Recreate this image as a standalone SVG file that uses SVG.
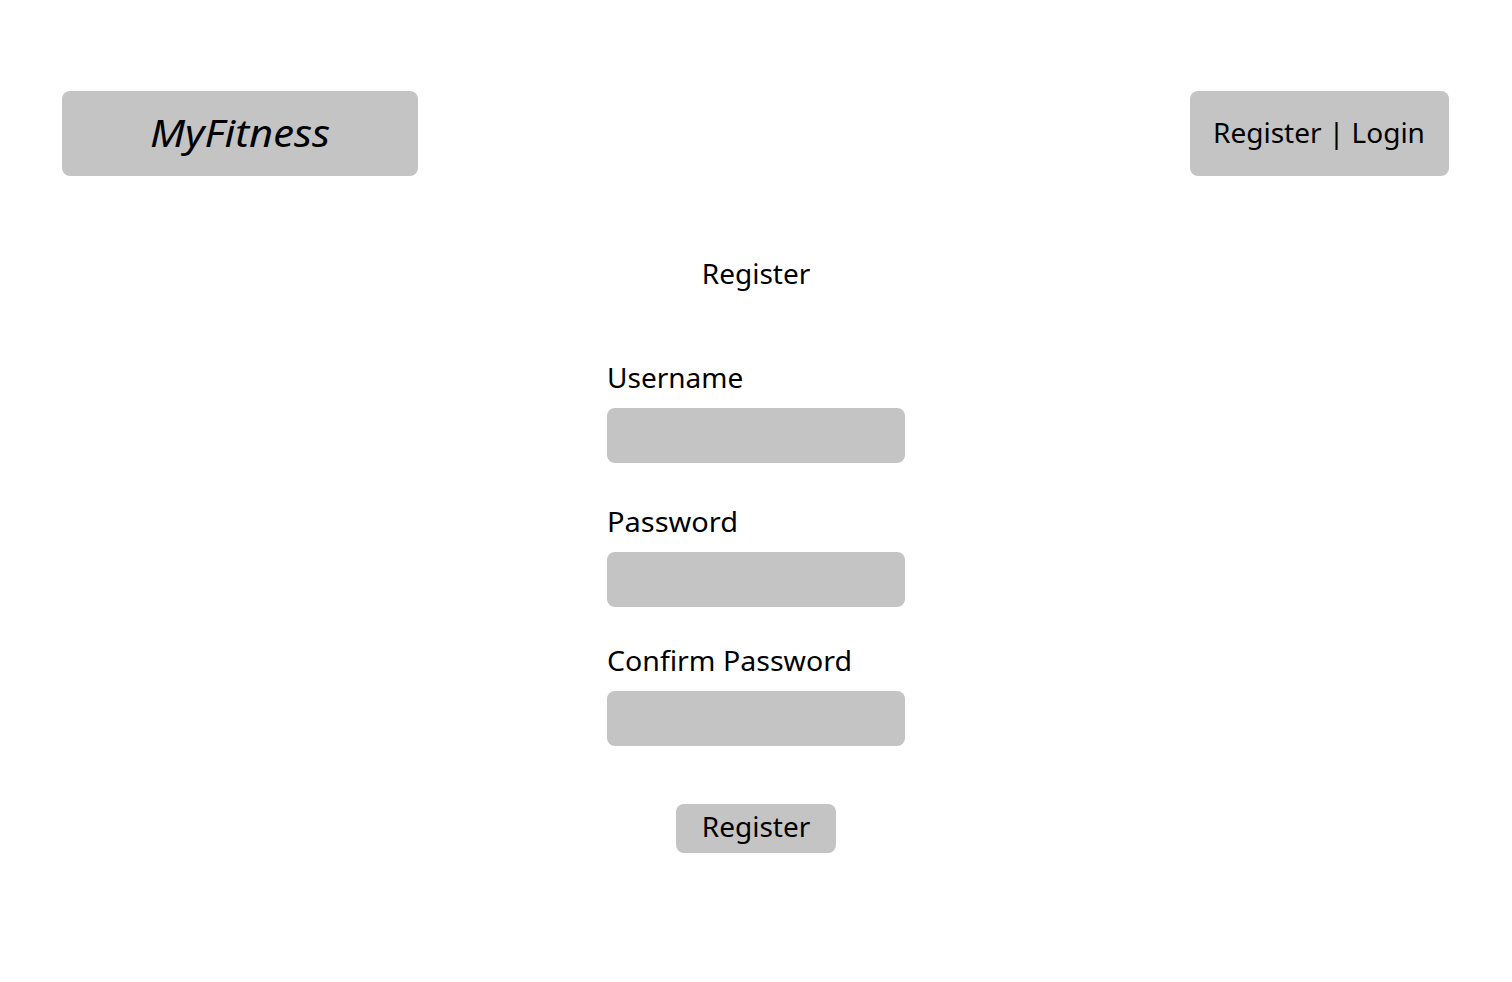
<svg xmlns="http://www.w3.org/2000/svg" width="1512" height="982" viewBox="0 0 1512 982">
<style>
.box{fill:#C4C4C4;}
.t{font-family:"Noto Sans","Open Sans",sans-serif;font-size:28px;fill:#000;}
.c{text-anchor:middle;}
</style>
<rect width="1512" height="982" fill="#FFFFFF"/>
<g id="logo">
<rect class="box" x="62" y="91" width="356" height="85" rx="8"/>
<text class="t c" x="240" y="147" style="font-size:39px;font-style:italic" textLength="180" lengthAdjust="spacingAndGlyphs">MyFitness</text>
</g>
<g id="nav">
<rect class="box" x="1190" y="91" width="259" height="85" rx="8"/>
<text class="t c" x="1319" y="143">Register | Login</text>
</g>
<g id="title">
<text class="t c" x="756" y="284">Register</text>
</g>
<g id="username">
<text class="t" x="607" y="388">Username</text>
<rect class="box" x="607" y="408" width="298" height="55" rx="8"/>
</g>
<g id="password">
<text class="t" x="607" y="532" textLength="131" lengthAdjust="spacingAndGlyphs">Password</text>
<rect class="box" x="607" y="552" width="298" height="55" rx="8"/>
</g>
<g id="confirm">
<text class="t" x="607" y="671" textLength="245" lengthAdjust="spacingAndGlyphs">Confirm Password</text>
<rect class="box" x="607" y="691" width="298" height="55" rx="8"/>
</g>
<g id="button">
<rect class="box" x="676" y="804" width="160" height="49" rx="8"/>
<text class="t c" x="756" y="837">Register</text>
</g>
<g id="connectors"/>
</svg>
